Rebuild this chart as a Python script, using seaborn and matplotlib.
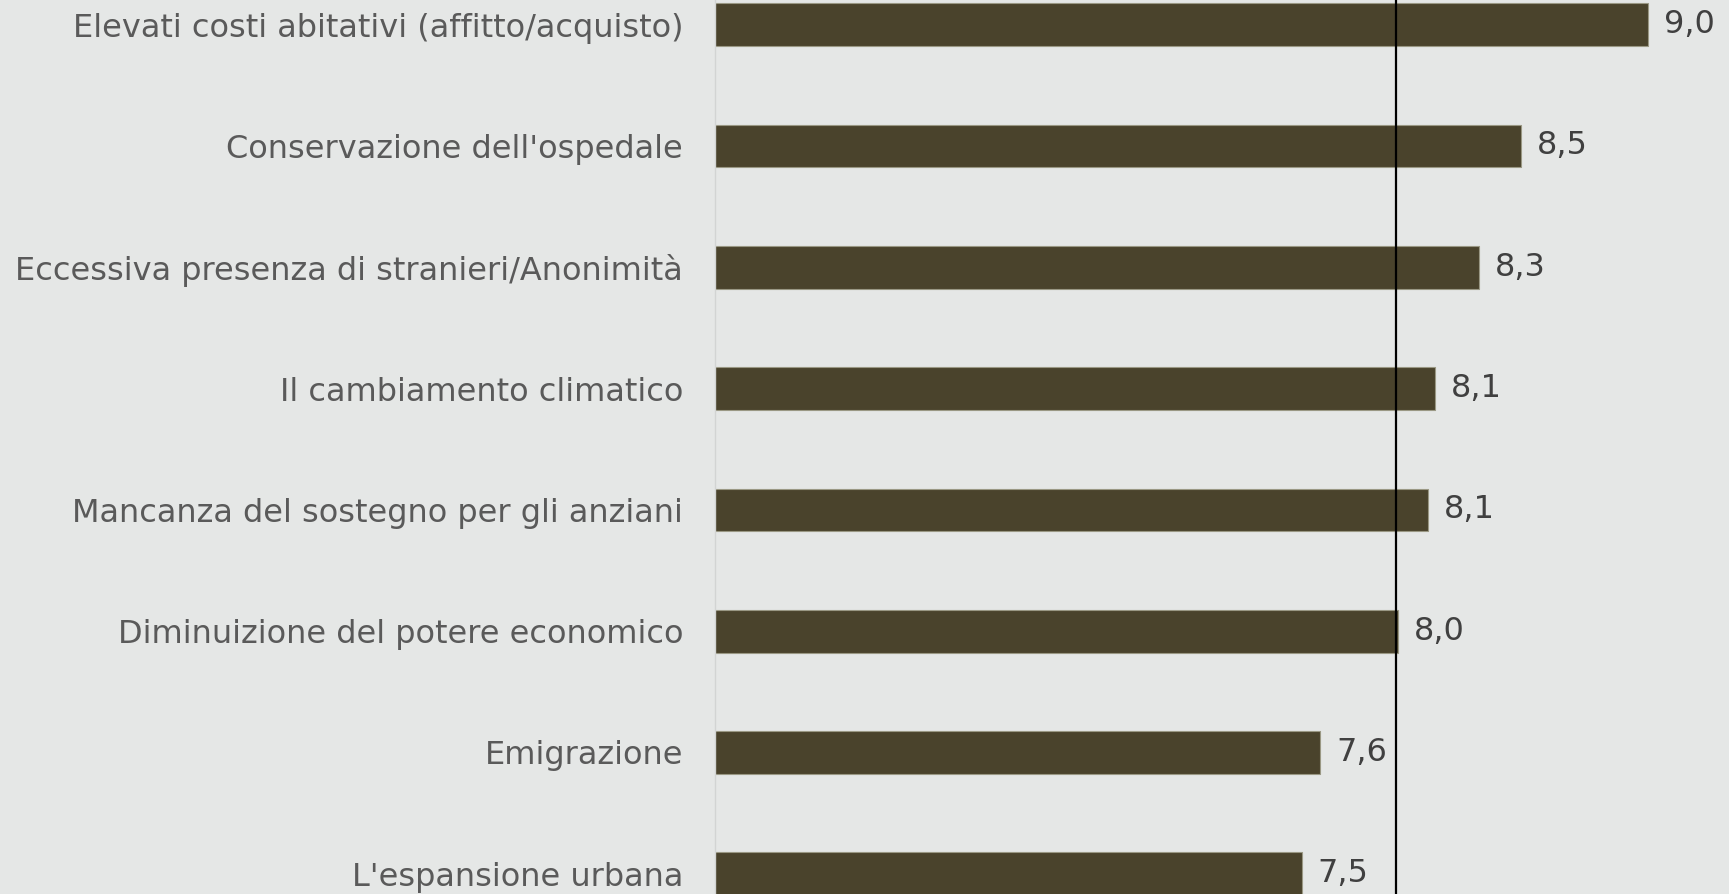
import pandas as pd
import seaborn as sns
import matplotlib.pyplot as plt

# data (bar lengths), labels shown rounded to 1 decimal
categories = [
    "Elevati costi abitativi (affitto/acquisto)",
    "Conservazione dell'ospedale",
    "Eccessiva presenza di stranieri/Anonimità",
    "Il cambiamento climatico",
    "Mancanza del sostegno per gli anziani",
    "Diminuizione del potere economico",
    "Emigrazione",
    "L'espansione urbana",
]
values = [9.03, 8.48, 8.30, 8.11, 8.08, 7.95, 7.615, 7.535]
average = 7.94

bg = "#e5e7e6"
bar_color = "#4a432c"

sns.set_style("white")
plt.rcParams["font.family"] = ["DejaVu Sans"]

df = pd.DataFrame({"problema": categories, "valore": values})

fig = plt.figure(figsize=(17.29, 8.94), dpi=100, facecolor=bg)
ax = fig.add_axes([715 / 1729, 0, 1 - 715 / 1729, 1])
ax.set_facecolor(bg)

sns.barplot(data=df, x="valore", y="problema", orient="h", color=bar_color,
            width=0.352, saturation=1, edgecolor="#9a9884", linewidth=0.8, ax=ax)

ax.set_xlim(5, 9.38)
ax.set_ylim(7.167, -0.2036)
ax.axvline(average, color="black", linewidth=1.6, zorder=5)

labels = [f"{v:.1f}".replace(".", ",") for v in values]
ax.bar_label(ax.containers[0], labels=labels, padding=11.5, fontsize=23, color="#404040")

ax.set_xlabel("")
ax.set_ylabel("")
ax.set_xticks([])
ax.tick_params(axis="y", length=0, pad=23, labelsize=23, labelcolor="#5a5a5a")
for s in ["top", "right", "bottom"]:
    ax.spines[s].set_visible(False)
ax.spines["left"].set_color("#d2d4d3")
ax.spines["left"].set_linewidth(1)

fig.savefig("out.png", dpi=100, facecolor=bg)
